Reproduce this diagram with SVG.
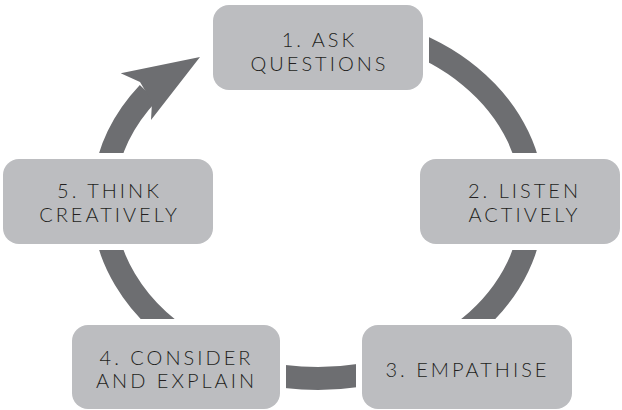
<svg xmlns="http://www.w3.org/2000/svg" width="622" height="410" viewBox="0 0 622 410">
<style>
.box{fill:#bcbdc0;stroke:#ffffff;stroke-width:12;paint-order:stroke}
.lbl{font-family:Lato,"Liberation Sans",sans-serif;font-weight:300;font-size:20px;letter-spacing:3px;fill:#231f20;text-anchor:middle}
.ring{fill:none;stroke:#6d6e71;stroke-width:23}
</style>
<rect width="622" height="410" fill="#ffffff"/>
<g id="connectors">
<path class="ring" d="M 148.2 93 A 215 177 0 0 0 318 378.5 A 215 177 0 0 0 533 201.5 A 215 177 0 0 0 318 24.5"/>
<polygon points="120.7,73.3 200,57 151,120 152,102 140,82" fill="#6d6e71"/>
</g>
<g id="n1"><rect class="box" x="213" y="5" width="210" height="85" rx="16"/>
<text class="lbl" x="319.5" y="47">1. ASK</text><text class="lbl" x="319.5" y="71">QUESTIONS</text></g>
<g id="n2"><rect class="box" x="420" y="159" width="200" height="85" rx="16"/>
<text class="lbl" x="524.5" y="198">2. LISTEN</text><text class="lbl" x="524.5" y="222">ACTIVELY</text></g>
<g id="n3"><rect class="box" x="362" y="325" width="210" height="84" rx="16"/>
<text class="lbl" x="467.5" y="377">3. EMPATHISE</text></g>
<g id="n4"><rect class="box" x="72" y="325" width="208" height="84" rx="16"/>
<text class="lbl" x="176.5" y="365">4. CONSIDER</text><text class="lbl" x="176.5" y="388">AND EXPLAIN</text></g>
<g id="n5"><rect class="box" x="3" y="159" width="210" height="85" rx="16"/>
<text class="lbl" x="109.5" y="198">5. THINK</text><text class="lbl" x="109.5" y="222">CREATIVELY</text></g>
</svg>
